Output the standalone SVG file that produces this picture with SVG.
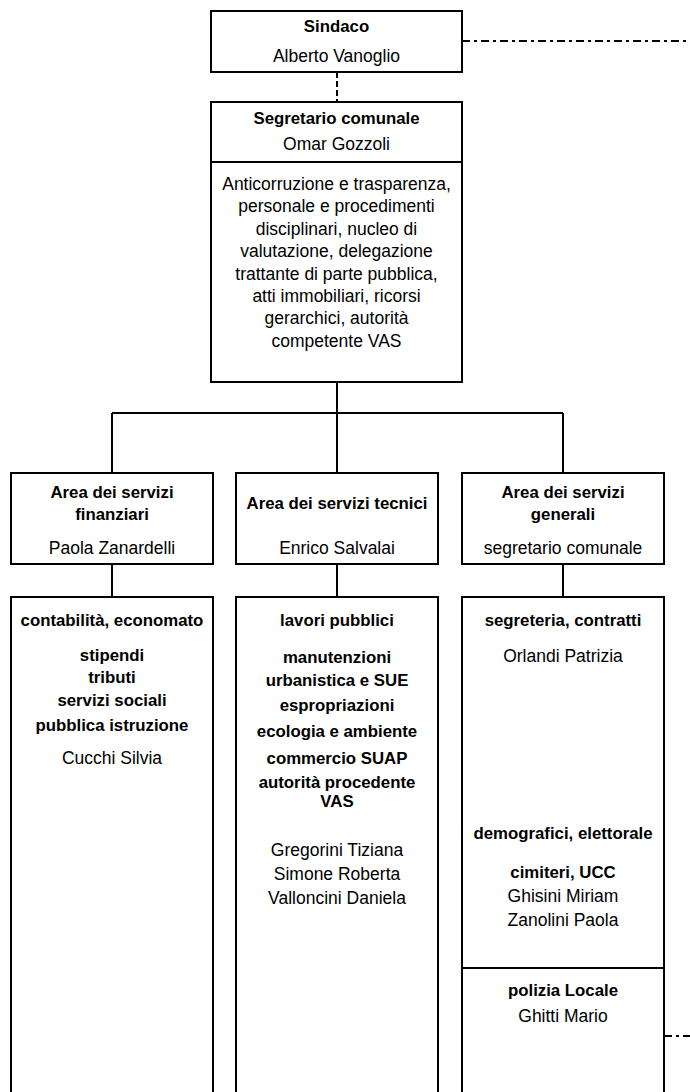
<svg xmlns="http://www.w3.org/2000/svg" width="690" height="1092" viewBox="0 0 690 1092">
<style>
.box{fill:#fff;stroke:#000;stroke-width:2}
.ln{fill:none;stroke:#000;stroke-width:2}
.dd{fill:none;stroke:#000;stroke-width:2;stroke-dasharray:8 4 3 4}
.ds{fill:none;stroke:#000;stroke-width:2;stroke-dasharray:6 3}
text{font-family:"Liberation Sans",Arial,sans-serif;font-size:17.5px;fill:#000;text-anchor:middle}
.b{font-weight:bold;font-size:16.8px}
</style>
<rect width="690" height="1092" fill="#fff"/>
<g id="connectors">
<line class="dd" x1="462" y1="41" x2="690" y2="41"/>
<line class="ds" x1="337" y1="72" x2="337" y2="102"/>
<line class="ln" x1="337" y1="382" x2="337" y2="473"/>
<line class="ln" x1="112" y1="413" x2="563" y2="413"/>
<line class="ln" x1="112" y1="413" x2="112" y2="473"/>
<line class="ln" x1="563" y1="413" x2="563" y2="473"/>
<line class="ln" x1="112" y1="564" x2="112" y2="597"/>
<line class="ln" x1="337" y1="564" x2="337" y2="597"/>
<line class="ln" x1="563" y1="564" x2="563" y2="597"/>
<line class="dd" x1="664" y1="1036" x2="690" y2="1036"/>
</g>
<g id="sindaco">
<rect class="box" x="211" y="11" width="251" height="61"/>
<text class="b" x="336.5" y="32">Sindaco</text>
<text x="336.5" y="62">Alberto Vanoglio</text>
</g>
<g id="segretario">
<rect class="box" x="211" y="102" width="251" height="280"/>
<line class="ln" x1="211" y1="162" x2="462" y2="162"/>
<text class="b" x="336.5" y="124">Segretario comunale</text>
<text x="336.5" y="150">Omar Gozzoli</text>
<text x="336.5" y="190">Anticorruzione e trasparenza,</text>
<text x="336.5" y="212">personale e procedimenti</text>
<text x="336.5" y="235">disciplinari, nucleo di</text>
<text x="336.5" y="257">valutazione, delegazione</text>
<text x="336.5" y="280">trattante di parte pubblica,</text>
<text x="336.5" y="302">atti immobiliari, ricorsi</text>
<text x="336.5" y="324">gerarchici, autorità</text>
<text x="336.5" y="347">competente VAS</text>
</g>
<g id="area-finanziari">
<rect class="box" x="11" y="473" width="202" height="91"/>
<text class="b" x="112" y="498">Area dei servizi</text>
<text class="b" x="112" y="520">finanziari</text>
<text x="112" y="554">Paola Zanardelli</text>
</g>
<g id="area-tecnici">
<rect class="box" x="236" y="473" width="202" height="91"/>
<text class="b" x="337" y="509">Area dei servizi tecnici</text>
<text x="337" y="554">Enrico Salvalai</text>
</g>
<g id="area-generali">
<rect class="box" x="462" y="473" width="202" height="91"/>
<text class="b" x="563" y="498">Area dei servizi</text>
<text class="b" x="563" y="520">generali</text>
<text x="563" y="554">segretario comunale</text>
</g>
<g id="uffici-finanziari">
<rect class="box" x="11" y="597" width="202" height="510"/>
<text class="b" x="112" y="626">contabilità, economato</text>
<text class="b" x="112" y="661">stipendi</text>
<text class="b" x="112" y="683">tributi</text>
<text class="b" x="112" y="706">servizi sociali</text>
<text class="b" x="112" y="731">pubblica istruzione</text>
<text x="112" y="764">Cucchi Silvia</text>
</g>
<g id="uffici-tecnici">
<rect class="box" x="236" y="597" width="202" height="510"/>
<text class="b" x="337" y="626">lavori pubblici</text>
<text class="b" x="337" y="663">manutenzioni</text>
<text class="b" x="337" y="686">urbanistica e SUE</text>
<text class="b" x="337" y="711">espropriazioni</text>
<text class="b" x="337" y="737">ecologia e ambiente</text>
<text class="b" x="337" y="764">commercio SUAP</text>
<text class="b" x="337" y="788">autorità procedente</text>
<text class="b" x="337" y="807">VAS</text>
<text x="337" y="856">Gregorini Tiziana</text>
<text x="337" y="880">Simone Roberta</text>
<text x="337" y="904">Valloncini Daniela</text>
</g>
<g id="uffici-generali">
<rect class="box" x="462" y="597" width="202" height="371"/>
<text class="b" x="563" y="626">segreteria, contratti</text>
<text x="563" y="662">Orlandi Patrizia</text>
<text class="b" x="563" y="839">demografici, elettorale</text>
<text class="b" x="563" y="878">cimiteri, UCC</text>
<text x="563" y="902">Ghisini Miriam</text>
<text x="563" y="926">Zanolini Paola</text>
</g>
<g id="polizia-locale">
<rect class="box" x="462" y="968" width="202" height="140"/>
<text class="b" x="563" y="996">polizia Locale</text>
<text x="563" y="1022">Ghitti Mario</text>
</g>
</svg>
